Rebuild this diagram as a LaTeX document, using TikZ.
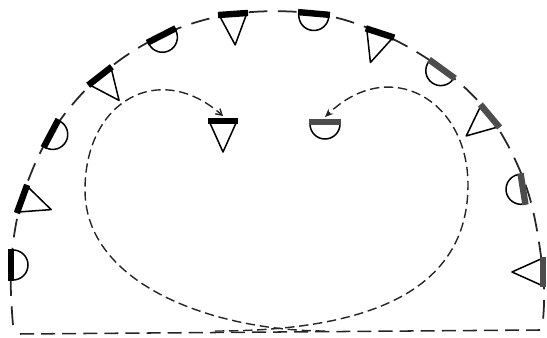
\documentclass[tikz,border=0pt]{standalone}
\usetikzlibrary{arrows.meta}

\begin{document}
\begin{tikzpicture}[
        x=0.03cm, y=0.03cm,
        bar color/.store in=\barcolor, bar color=black,
        faded/.style={bar color=black!70},
        man/.pic={
            \fill[white] (-13.5,-1) -- (0,-31) -- (13.5,-1) -- cycle;
            \draw[line width=1.3pt, line join=round] (-13.5,-1) -- (0,-31) -- (13.5,-1);
            \fill[\barcolor] (-15,-3.2) rectangle (15,3.2);
            \coordinate (-top) at (0,5);
        },
        woman/.pic={
            \fill[white] (-15,-2) arc[start angle=180, end angle=360, radius=15] -- cycle;
            \draw[line width=1.3pt] (-15,-2) arc[start angle=180, end angle=360, radius=15];
            \fill[\barcolor] (-16,-3.2) rectangle (16,3.2);
            \coordinate (-top) at (0,5);
        },
        ring/.style={line width=1.5pt, dash pattern=on 16pt off 9pt, black!85},
        route/.style={line width=1.2pt, dash pattern=on 8pt off 4pt, black!85},
        floor/.style={line width=1.3pt, dash pattern=on 12pt off 6pt, black!85}
    ]
        \useasboundingbox (0,0) rectangle (547,338);

        \draw[ring] plot[smooth, tension=0.6] coordinates {(13,13) (11,73) (22,139) (51,204.5)
            (100,262) (161.5,302.5) (233,324) (314,324.5) (380,305) (442,269) (490,222)
            (527,149) (543,66) (543,18)};
        \coordinate (fl) at (20,4);
        \coordinate (fr) at (540,8);
        \draw[floor] (fl) -- (fr);

        % dancers round the circle
        \pic[rotate=90] (w1) at (11,73) {woman};
        \pic[rotate=70] (m1) at (22,139) {man};
        \pic[rotate=62] (w2) at (51,204.5) {woman};
        \pic[rotate=38] (m2) at (100,262) {man};
        \pic[rotate=27] (w3) at (161.5,302.5) {woman};
        \pic[rotate=4] (m3) at (233,324) {man};
        \pic[rotate=-5] (w4) at (314,324.5) {woman};
        \pic[rotate=-18] (m4) at (380,305) {man};
        \pic[rotate=-36, faded] (w5) at (442,269) {woman};
        \pic[rotate=-50, faded] (m5) at (490,222) {man};
        \pic[rotate=-81, faded] (w6) at (523,149) {woman};
        \pic[rotate=-90, faded] (m6) at (543,66) {man};

        % the couple in the middle
        \pic (cm) at (223,217) {man};
        \pic[faded] (cw) at (325,216) {woman};

        \coordinate (sl) at (325,7);
        \coordinate (sr) at (215,7);
        \draw[route, -{Straight Barb[length=5pt, width=6pt]}] (sl)
            .. controls (215,7) and (85,53) .. (85,148)
            .. controls (85,238) and (160,278) .. (cm-top);
        \draw[route, -{Stealth[length=7pt, width=6pt]}] (sr)
            .. controls (340,7) and (468,33) .. (468,153)
            .. controls (468,238) and (390,283) .. (cw-top);
    \end{tikzpicture}
\end{document}
